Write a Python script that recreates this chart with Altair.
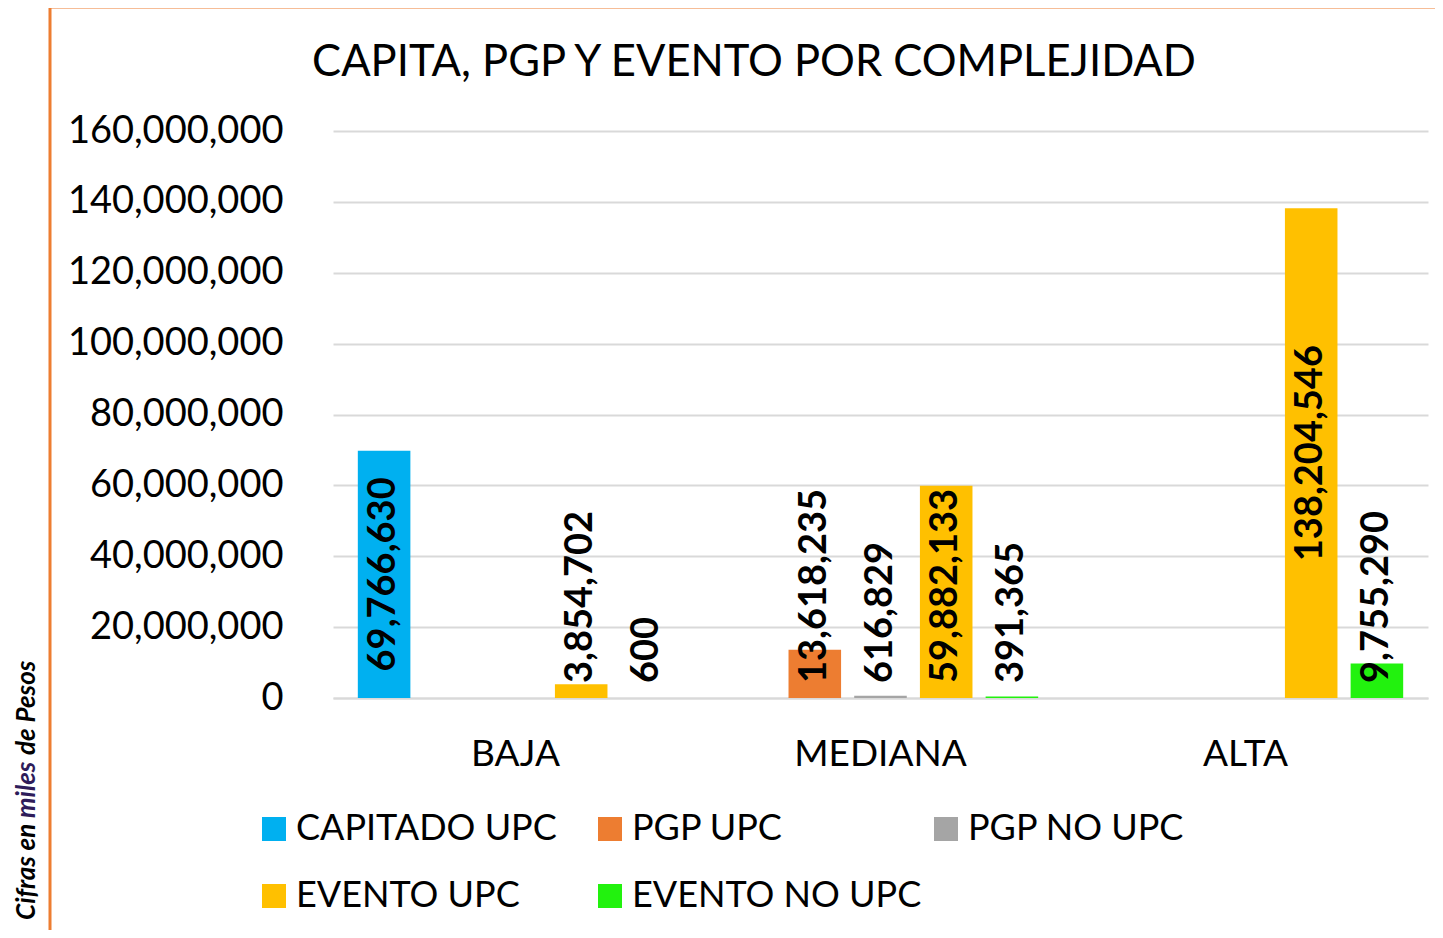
import altair as alt
import pandas as pd

# ---------------- data ----------------
categories = ["BAJA", "MEDIANA", "ALTA"]
series = ["CAPITADO UPC", "PGP UPC", "PGP NO UPC", "EVENTO UPC", "EVENTO NO UPC"]
colors = ["#00B0F0", "#ED7D31", "#A5A5A5", "#FFC000", "#22F20E"]

capitado_upc = [69766630, None, None]
pgp_upc = [None, 13618235, None]
pgp_no_upc = [None, 616829, None]
evento_upc = [3854702, 59882133, 138204546]
evento_no_upc = [600, 391365, 9755290]

y_ticks = [0, 20000000, 40000000, 60000000, 80000000,
           100000000, 120000000, 140000000, 160000000]

title_text = "CAPITA, PGP Y EVENTO POR COMPLEJIDAD"
side_note = ["Cifras en", "miles", "de Pesos"]

rows = []
for s, vals in zip(series, [capitado_upc, pgp_upc, pgp_no_upc, evento_upc, evento_no_upc]):
    for c, v in zip(categories, vals):
        if v is not None:
            rows.append({"categoria": c, "serie": s, "valor": v})
df = pd.DataFrame(rows)

FONT = "Lato"

x_enc = alt.X("categoria:N", sort=categories,
              scale=alt.Scale(domain=categories, paddingInner=0.1, paddingOuter=0.05),
              axis=alt.Axis(title=None, labelAngle=0, labelFontSize=37, labelFont=FONT,
                            labelColor="black", labelPadding=38, ticks=False,
                            domain=True, domainColor="#D9D9D9", domainWidth=2))
xoff_enc = alt.XOffset("serie:N", sort=series,
                       scale=alt.Scale(domain=series, paddingInner=0.2, paddingOuter=0.1))
y_enc = alt.Y("valor:Q",
              scale=alt.Scale(domain=[0, 160000000], nice=False),
              axis=alt.Axis(values=y_ticks, format=",d", title=None, labelFontSize=38,
                            labelFont=FONT, labelColor="black", labelPadding=50,
                            labelLimit=400, ticks=False, domain=False,
                            gridColor="#D9D9D9", gridWidth=2))

base = alt.Chart(df)

bars = base.mark_bar().encode(
    x=x_enc,
    xOffset=xoff_enc,
    y=y_enc,
    color=alt.Color("serie:N", sort=series,
                    scale=alt.Scale(domain=series, range=colors),
                    legend=alt.Legend(title=None, orient="none", legendX=-77, legendY=680,
                                      columns=3, direction="horizontal", symbolType="square",
                                      symbolSize=576, symbolStrokeWidth=0, labelFontSize=36,
                                      labelFont=FONT, labelColor="black", labelLimit=500,
                                      gridAlign="all", columnPadding=6, rowPadding=31,
                                      labelOffset=4, padding=0)),
)

labels_big = base.transform_filter(alt.datum.valor >= 65000000).transform_calculate(
    mid="datum.valor / 2"
).mark_text(angle=270, align="center", baseline="middle", font=FONT, fontSize=38,
            fontWeight="bold", color="black").encode(
    x=alt.X("categoria:N", sort=categories),
    xOffset=alt.XOffset("serie:N", sort=series),
    y=alt.Y("mid:Q"),
    text=alt.Text("valor:Q", format=",d"),
)

labels_small = base.transform_filter(alt.datum.valor < 65000000).mark_text(
    angle=270, align="left", baseline="middle", font=FONT, fontSize=38,
    fontWeight="bold", color="black", dx=15).encode(
    x=alt.X("categoria:N", sort=categories),
    xOffset=alt.XOffset("serie:N", sort=series),
    y=alt.datum(0),
    text=alt.Text("valor:Q", format=",d"),
)

one = pd.DataFrame({"k": [0]})

title = alt.Chart(one).mark_text(font=FONT, fontSize=43.5, align="center",
                                 baseline="alphabetic", color="black").encode(
    x=alt.value(421), y=alt.value(-55), text=alt.value(title_text))

note_style = dict(font=FONT, fontSize=26, fontStyle="italic", fontWeight="bold",
                  angle=270, align="left", baseline="middle")
note1 = alt.Chart(one).mark_text(color="black", **note_style).encode(
    x=alt.value(-306), y=alt.value(789), text=alt.value(side_note[0]))
note2 = alt.Chart(one).mark_text(color="#2E1C5A", **note_style).encode(
    x=alt.value(-306), y=alt.value(687), text=alt.value(side_note[1]))
note3 = alt.Chart(one).mark_text(color="black", **note_style).encode(
    x=alt.value(-306), y=alt.value(624), text=alt.value(side_note[2]))

border_top = alt.Chart(one).mark_rule(color="#ED7D31", strokeWidth=3).encode(
    x=alt.value(-283), x2=alt.value(1110), y=alt.value(-124))
border_left = alt.Chart(one).mark_rule(color="#ED7D31", strokeWidth=3).encode(
    x=alt.value(-283), y=alt.value(-124), y2=alt.value(807))

chart = alt.layer(
    bars, labels_big, labels_small, title, note1, note2, note3, border_top, border_left
).properties(
    width=1095, height=567,
    autosize=alt.AutoSizeParams(type="none"),
    padding={"left": 325, "top": 123, "right": 7, "bottom": 232},
).configure_view(stroke=None)

chart.save("out.html", embed_options={"renderer": "svg", "actions": False})
